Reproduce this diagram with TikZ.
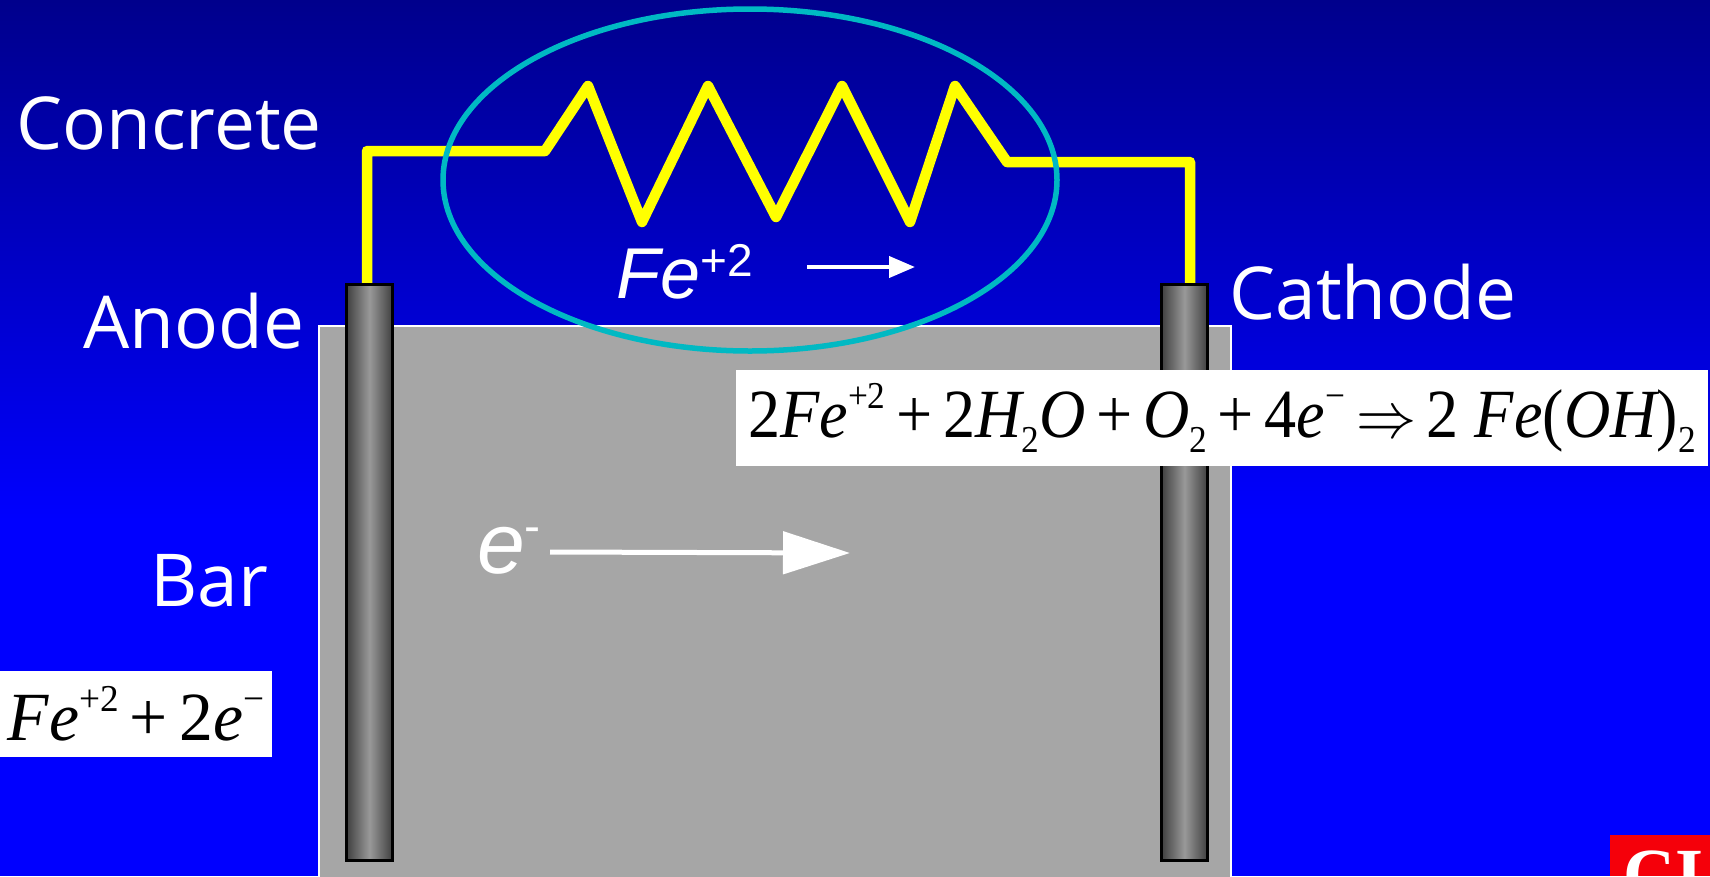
\documentclass[tikz,border=0pt]{standalone}
\usepackage{fontspec}
\usepackage{graphicx}
\setmainfont{Liberation Serif}
\newfontfamily\labelfont{Open Sans}
\newfontfamily\arialfont{Liberation Sans}
\usetikzlibrary{arrows.meta, shapes.geometric}
\definecolor{deepblue}{RGB}{0,0,140}
\definecolor{fullblue}{RGB}{0,0,255}
\definecolor{slabgray}{RGB}{166,166,166}
\definecolor{wireyellow}{RGB}{255,255,0}
\definecolor{ringteal}{RGB}{0,185,195}
\definecolor{logored}{RGB}{245,0,10}
\newcommand{\eqsup}[1]{\raisebox{0.42em}{\fontsize{38}{38}\selectfont\upshape #1}}
\newcommand{\eqsub}[1]{\raisebox{-0.22em}{\fontsize{38}{38}\selectfont\upshape #1}}
\newcommand{\eqnum}[1]{{\upshape #1}}
\newcommand{\eqarrow}{\scalebox{2.6}{$\Rightarrow$}}
\tikzset{
	wordlabel/.style={text=white, font=\labelfont\fontsize{73}{73}\selectfont},
	ionlabel/.style={text=white, font=\arialfont\itshape\fontsize{72}{72}\selectfont},
	eqbox/.style={fill=white, text=black, inner sep=0pt, font=\itshape\fontsize{69}{69}\selectfont},
	barshade/.style={draw=black, line width=3pt, left color=black!75, right color=black!75, middle color=black!40},
	wire/.style={draw=wireyellow, line width=10.5pt, line join=round, line cap=round},
	flow/.style n args={3}{draw=white, line width=#1pt, -{Triangle[length=#2pt, width=#3pt]}}
}
\begin{document}
\begin{tikzpicture}[x=1pt, y=-1pt]
	\useasboundingbox (0,0) rectangle (1710,876);
	\clip (0,0) rectangle (1710,876);
	% background and slab
	\fill[fullblue] (0,0) rectangle (1710,876);
	\shade[top color=deepblue, bottom color=fullblue] (0,0) rectangle (1710,520);
	\draw[white, line width=2.5pt, fill=slabgray] (319,326) rectangle (1231,890);
	% wire
	\coordinate (anodetop) at (367,283);
	\coordinate (cathodetop) at (1190,283);
	\draw[wire] (anodetop) -- (367,151) -- (545,151) -- (588,86) -- (642,222) -- (708,86) -- (776,217)
		-- (842,86) -- (910,222) -- (955,86) -- (1007,162) -- (1190,162) -- (cathodetop);
	% bars
	\shade[barshade] (346.5,284.5) rectangle (392.5,860);
	\shade[barshade] (1161.5,284.5) rectangle (1207.5,860);
	% ring
	\node[draw=ringteal, line width=5.5pt, shape=ellipse, minimum width=614pt, minimum height=342pt, inner sep=0pt] (ring) at (750,180) {};
	% labels
	\node[wordlabel] (concrete) at (169,123) {Concrete};
	\node[wordlabel] (anode) at (194,321) {Anode};
	\node[wordlabel] (cathode) at (1373,292) {Cathode};
	\node[wordlabel] (bar) at (209,581) {Bar};
	\node[ionlabel] (feion) at (685,272) {Fe\raisebox{0.3em}{\upshape\fontsize{46}{46}\selectfont +2}};
	\node[ionlabel, font=\arialfont\itshape\fontsize{86}{86}\selectfont] (electron) at (509,551) {e\raisebox{0.36em}{\upshape\fontsize{48}{48}\selectfont -}};
	% arrows
	\coordinate (feend) at (915,267);
	\coordinate (eend) at (850,553);
	\draw[flow={4}{26}{21}] (807,267) -- (feend);
	\draw[flow={5}{67}{42}] (550,552) -- (eend);
	% equations
	\node[eqbox, minimum width=972pt, minimum height=96pt] (cathodeeq) at (1222,418)
		{\scalebox{0.93}[1]{\eqnum{2}Fe\eqsup{+2}\,{\upshape +}\,\eqnum{2}H\eqsub{2}O\,{\upshape +}\,O\eqsub{2}\,{\upshape +}\,\eqnum{4}e\eqsup{\textminus}\,\eqarrow\,\eqnum{2} Fe{\upshape (}OH{\upshape )}\eqsub{2}}};
	\node[eqbox, minimum width=272pt, minimum height=86pt] (anodeeq) at (136,714)
		{\scalebox{0.98}[1]{Fe\eqsup{+2}\,{\upshape +}\,\eqnum{2}e\eqsup{\textminus}}};
	% corner logo
	\fill[logored] (1610,835) rectangle (1710,876);
	\node[text=white, anchor=north west, inner sep=0pt, font=\bfseries\fontsize{72}{72}\selectfont] (logo) at (1623,851) {CI};
\end{tikzpicture}
\end{document}
